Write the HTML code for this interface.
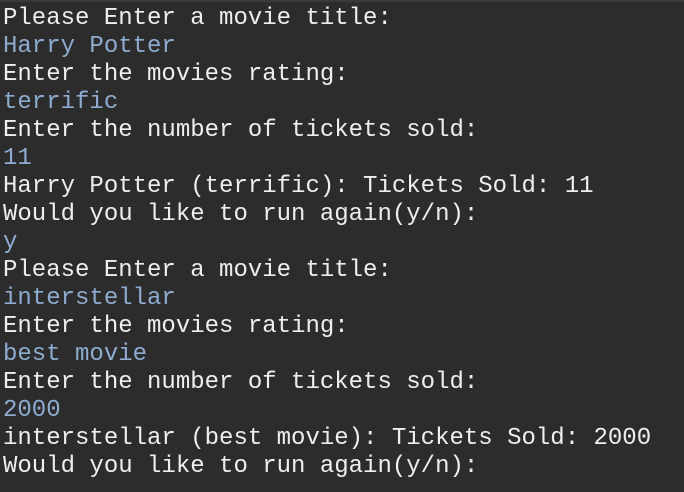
<!DOCTYPE html>
<html><head><style>
html,body{margin:0;padding:0;background:#2c2c2c;width:684px;height:492px;overflow:hidden}
body{border-top:2px solid #3a3a3a;box-sizing:border-box}
pre{margin:0;padding:3px 0 0 3px;font-family:"Liberation Mono",monospace;font-size:24px;line-height:28px;color:#eeeeee}
.b{color:#8eaccf}
</style></head><body><pre>Please Enter a movie title:
<span class="b">Harry Potter</span>
Enter the movies rating:
<span class="b">terrific</span>
Enter the number of tickets sold:
<span class="b">11</span>
Harry Potter (terrific): Tickets Sold: 11
Would you like to run again(y/n):
<span class="b">y</span>
Please Enter a movie title:
<span class="b">interstellar</span>
Enter the movies rating:
<span class="b">best movie</span>
Enter the number of tickets sold:
<span class="b">2000</span>
interstellar (best movie): Tickets Sold: 2000
Would you like to run again(y/n):</pre></body></html>
